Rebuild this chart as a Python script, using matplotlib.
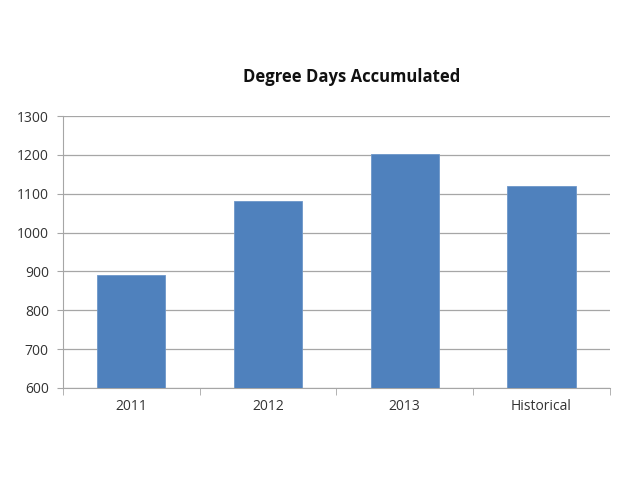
import numpy as np
import matplotlib.pyplot as plt

# --- data ---
categories = ['2011', '2012', '2013', 'Historical']
degree_days = [891, 1081, 1202, 1120]
y_ticks = [600, 700, 800, 900, 1000, 1100, 1200, 1300]

plt.rcParams['font.family'] = ['Open Sans', 'DejaVu Sans']

fig = plt.figure(figsize=(6.4, 4.8), dpi=100)
ax = fig.add_axes([0.098, 0.1917, 0.855, 0.5666])

x = np.arange(len(categories))
ax.bar(x, degree_days, width=0.5, color='#4F81BD', edgecolor='#6D97C9',
       linewidth=0.6, zorder=3)

ax.set_ylim(600, 1300)
ax.set_xlim(-0.5, len(categories) - 0.5)
ax.set_yticks(y_ticks)
ax.set_yticklabels([str(v) for v in y_ticks], fontsize=10, color='#333333')
ax.yaxis.grid(True, color='#A6A6A6', linewidth=0.9, zorder=0)

# category labels centred, tick marks on category boundaries
ax.set_xticks(x)
ax.set_xticklabels(categories, fontsize=10, color='#333333')
ax.tick_params(axis='x', length=0, pad=8)
ax.set_xticks(np.arange(-0.5, len(categories)), minor=True)
ax.tick_params(axis='x', which='minor', length=5, color='#A6A6A6')
ax.tick_params(axis='y', length=4, color='#A6A6A6', pad=6)

for side in ['top', 'right']:
    ax.spines[side].set_visible(False)
for side in ['left', 'bottom']:
    ax.spines[side].set_color('#A6A6A6')

fig.text(0.55, 0.84, 'Degree Days Accumulated', ha='center', va='center',
         fontsize=12, fontweight='bold', color='#111111')

fig.savefig('out.png', dpi=100)
